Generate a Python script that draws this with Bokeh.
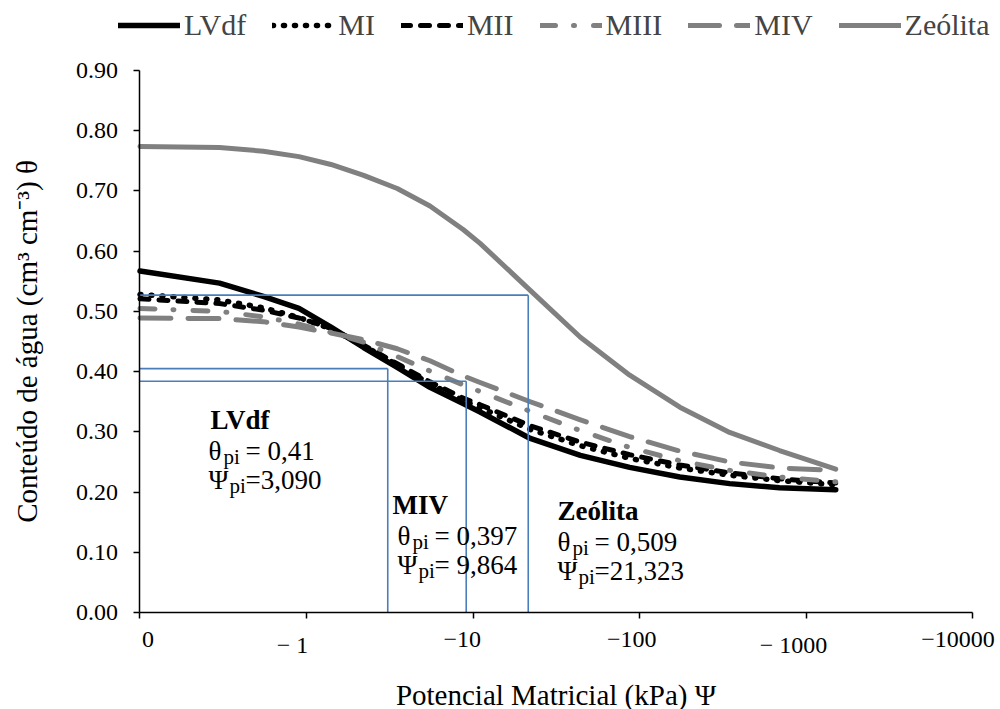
from bokeh.plotting import figure
from bokeh.models import Range1d, FixedTicker, NumeralTickFormatter, Legend, LegendItem, Label
from bokeh.core.properties import value
from bokeh.embed import file_html
from bokeh.resources import INLINE

# ---------------- data ----------------
psi = [0.1, 0.3, 0.55, 0.9, 1.4, 2.2, 3.5, 5.5, 8.7, 11, 22, 44, 87, 174, 346, 690, 1500]

theta_LVdf = [0.567, 0.547, 0.525, 0.505, 0.474, 0.440, 0.407, 0.374, 0.347, 0.333, 0.289, 0.261, 0.241, 0.225, 0.214, 0.207, 0.204]
theta_MI = [0.528, 0.519, 0.506, 0.490, 0.471, 0.443, 0.411, 0.380, 0.352, 0.340, 0.304, 0.277, 0.256, 0.240, 0.228, 0.219, 0.212]
theta_MII = [0.521, 0.513, 0.502, 0.489, 0.472, 0.444, 0.413, 0.383, 0.356, 0.345, 0.310, 0.283, 0.262, 0.245, 0.232, 0.222, 0.215]
theta_MIII = [0.505, 0.500, 0.491, 0.479, 0.465, 0.449, 0.425, 0.401, 0.378, 0.367, 0.334, 0.302, 0.274, 0.252, 0.236, 0.225, 0.217]
theta_MIV = [0.489, 0.488, 0.483, 0.474, 0.464, 0.453, 0.438, 0.418, 0.393, 0.382, 0.350, 0.320, 0.292, 0.268, 0.250, 0.240, 0.236]
theta_Zeolita = [0.774, 0.772, 0.766, 0.757, 0.744, 0.726, 0.704, 0.675, 0.636, 0.613, 0.535, 0.457, 0.394, 0.341, 0.299, 0.269, 0.238]

series_names = ["LVdf", "MI", "MII", "MIII", "MIV", "Zeólita"]
series_values = [theta_LVdf, theta_MI, theta_MII, theta_MIII, theta_MIV, theta_Zeolita]

x_ticks = [0.1, 1, 10, 100, 1000, 10000]
x_tick_labels = ["0", "− 1", "−10", "−100", "− 1000", "−10000"]
y_ticks = [0.0, 0.1, 0.2, 0.3, 0.4, 0.5, 0.6, 0.7, 0.8, 0.9]

# inflection points (as drawn and as annotated)
pi_names = ["LVdf", "MIV", "Zeólita"]
theta_pi_line = [0.405, 0.384, 0.527]
psi_pi_line = [3.07, 9.08, 21.4]
theta_pi_text = ["= 0,41", "= 0,397", "= 0,509"]
psi_pi_text = ["=3,090", "= 9,864", "=21,323"]

# ---------------- styles ----------------
FONT = "Liberation Serif"
GREY = "#808080"
BLUE = "#4a7ebb"
styles = [
    dict(line_color="black", line_width=5.5, line_dash="solid", line_cap="round"),
    dict(line_color="black", line_width=5.5, line_dash="1 10", line_cap="round"),
    dict(line_color="black", line_width=5, line_dash="9 10", line_cap="round"),
    dict(line_color=GREY, line_width=5, line_dash="15 18 1 19", line_cap="round"),
    dict(line_color=GREY, line_width=5, line_dash="31 17", line_cap="round"),
    dict(line_color=GREY, line_width=5, line_dash="solid", line_cap="round"),
]

W, H = 1000, 709
# the frame covers the whole canvas; the axes sit inside it at fixed data locations
p = figure(width=W, height=H, x_axis_type="log",
           x_range=Range1d(0.014545, 14624), y_range=Range1d(-0.16108, 1.01627),
           output_backend="svg", toolbar_location=None,
           min_border=0, min_border_left=0, min_border_right=0, min_border_top=0, min_border_bottom=0)
p.outline_line_color = None
p.xgrid.visible = False
p.ygrid.visible = False
p.background_fill_color = "white"
p.border_fill_color = "white"

renderers = []
for vals, st in zip(series_values, styles):
    r = p.line(psi, vals, line_join="round", **st)
    renderers.append(r)

# reference lines for inflection points
p.segment(x0=[x_ticks[0]] * len(psi_pi_line), y0=theta_pi_line, x1=psi_pi_line, y1=theta_pi_line,
          line_color=BLUE, line_width=1.6)
p.segment(x0=psi_pi_line, y0=theta_pi_line, x1=psi_pi_line, y1=[y_ticks[0]] * len(psi_pi_line),
          line_color=BLUE, line_width=1.6)

# ---------------- axes ----------------
ya = p.yaxis[0]
ya.fixed_location = x_ticks[0]
ya.bounds = (y_ticks[0], y_ticks[-1])
ya.ticker = FixedTicker(ticks=y_ticks)
ya.formatter = NumeralTickFormatter(format="0.00")
ya.major_tick_in = 0
ya.major_tick_out = 6
ya.minor_tick_line_color = None
ya.axis_line_width = 1.5
ya.major_tick_line_width = 1.5
ya.major_label_standoff = 16
ya.major_label_text_font = FONT
ya.major_label_text_font_size = "24px"
ya.major_label_text_color = "black"
ya.axis_label = "Conteúdo de água (cm³ cm⁻³) θ"
ya.axis_label_text_font = FONT
ya.axis_label_text_font_size = "29px"
ya.axis_label_text_font_style = "normal"
ya.axis_label_text_color = "black"
ya.axis_label_standoff = 30

xa = p.xaxis[0]
xa.fixed_location = y_ticks[0]
xa.bounds = (x_ticks[0], x_ticks[-1])
xa.ticker = FixedTicker(ticks=x_ticks)
xa.major_label_overrides = {t: "" for t in x_ticks}
xa.major_tick_in = 0
xa.major_tick_out = 6
xa.minor_tick_line_color = None
xa.axis_line_width = 1.5
xa.major_tick_line_width = 1.5
xa.major_label_standoff = 0
xa.axis_label = "Potencial Matricial (kPa) Ψ"
xa.axis_label_text_font = FONT
xa.axis_label_text_font_size = "29px"
xa.axis_label_text_font_style = "normal"
xa.axis_label_text_color = "black"
xa.axis_label_standoff = 60

# x tick labels placed as in the original (hand-placed, slightly left of the ticks)
x_label_offsets = [8, -14, -11, -8, -13, -15]
p.text(x=x_ticks, y=[y_ticks[0]] * len(x_ticks), text=x_tick_labels, x_offset=x_label_offsets,
       y_offset=20, text_align="center", text_baseline="top", text_font=value(FONT),
       text_font_size="24px", text_color="black")

# ---------------- legend ----------------
legend = Legend(items=[LegendItem(label=n, renderers=[r]) for n, r in zip(series_names, renderers)],
                orientation="horizontal", location=(118, H - 42),
                label_text_font=FONT, label_text_font_size="30px",
                glyph_width=62, glyph_height=32, label_standoff=4, spacing=26,
                padding=0, margin=0, border_line_color=None, background_fill_alpha=0)
p.add_layout(legend)

# ---------------- annotations ----------------
def block(x, y, head, dx_lines, theta_txt, psi_txt):
    p.add_layout(Label(x=x, y=y, text=head, text_font=FONT, text_font_size="27px",
                       text_font_style="bold", text_baseline="alphabetic", text_color="black"))
    for dy, sym, sub_dx, rest in ((-31, "θ", 15, theta_txt), (-60, "Ψ", 21, psi_txt)):
        p.add_layout(Label(x=x, y=y, x_offset=dx_lines, y_offset=dy, text=sym, text_font=FONT,
                           text_font_size="27px", text_baseline="alphabetic", text_color="black"))
        p.add_layout(Label(x=x, y=y, x_offset=dx_lines + sub_dx, y_offset=dy - 6, text="pi",
                           text_font=FONT, text_font_size="21px", text_baseline="alphabetic",
                           text_color="black"))
        p.add_layout(Label(x=x, y=y, x_offset=dx_lines + 37, y_offset=dy, text=rest, text_font=FONT,
                           text_font_size="27px", text_baseline="alphabetic", text_color="black"))

block(0.265, 0.319, pi_names[0], -2, theta_pi_text[0], psi_pi_text[0])
block(3.28, 0.178, pi_names[1], 5, theta_pi_text[1], psi_pi_text[1])
block(32.1, 0.169, pi_names[2], 0, theta_pi_text[2], psi_pi_text[2])

open("out.html", "w").write(file_html(p, INLINE))
